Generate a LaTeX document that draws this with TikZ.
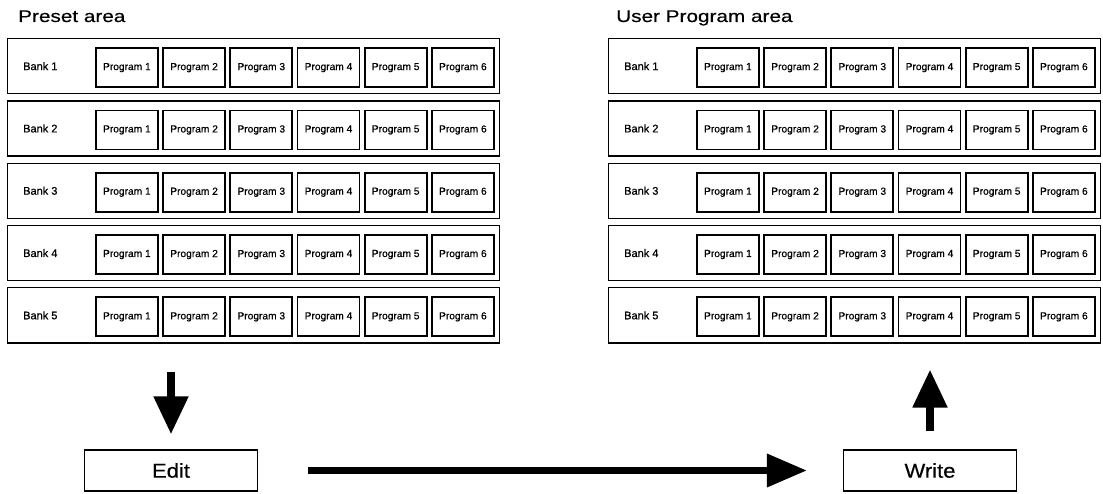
\documentclass[tikz,border=0pt]{standalone}
\usepackage{fontspec}
\setmainfont{Liberation Sans}
\newfontfamily\titlefont[FakeStretch=1.22,FakeBold=0.3]{Liberation Sans}
\newfontfamily\boxfont[FakeStretch=1.1,FakeBold=0.3]{Liberation Sans}
\newfontfamily\smallfont[FakeBold=0.6]{Liberation Sans}
\usetikzlibrary{positioning,arrows.meta}
\begin{document}
\begin{tikzpicture}[x=1pt,y=-1pt,
    bank/.style={draw,line width=1.3pt,minimum width=492pt,minimum height=55pt,inner sep=0pt,anchor=north west},
    prog/.style={draw,line width=1.8pt,minimum width=62pt,minimum height=39pt,inner sep=0pt,anchor=west,
      font=\smallfont\fontsize{10.2}{11}\selectfont},
    banklabel/.style={anchor=west,inner sep=0pt,font=\smallfont\fontsize{11}{12}\selectfont},
    areatitle/.style={anchor=base west,inner sep=0pt,font=\titlefont\fontsize{17}{18}\selectfont},
    opbox/.style={draw,line width=1.3pt,minimum width=173pt,minimum height=41pt,inner sep=0pt,
      font=\boxfont\fontsize{20}{22}\selectfont},
    bigarrow/.style={line width=8pt,-{Triangle[length=38pt,width=33pt]}}]
  \useasboundingbox (0,0) rectangle (1103,494);
  \node[areatitle] (pretitle) at (18,22) {Preset area};
  \node[areatitle] (usrtitle) at (616,22) {User Program area};
  \foreach \a/\xo in {pre/7,usr/608} {
    \foreach \b in {1,...,5} {
      \node[bank] (\a-bank\b) at (\xo,{38+62.3*(\b-1)}) {};
      \node[banklabel] (\a-lbl\b) at ([xshift=16pt]\a-bank\b.west) {Bank \b};
      \foreach \p in {1,...,6}
        \node[prog] (\a-b\b-p\p) at ([xshift={88+67.2*(\p-1)},yshift=-1.5pt]\a-bank\b.west) {Program \p};
    }
  }
  \node[opbox] (edit) at (171,470.5) {Edit};
  \node[opbox] (write) at (930,470.5) {Write};
  \draw[bigarrow,shorten <=28pt,shorten >=15pt] (pre-bank5.south -| edit.north) -- (edit.north);
  \draw[bigarrow,shorten <=18pt,shorten >=26pt] (write.north) -- (usr-bank5.south -| write.north);
  \draw[bigarrow,line width=7pt,-{Triangle[length=40pt,width=32pt]},shorten <=50pt,shorten >=36pt] (edit) -- (write);
\end{tikzpicture}
\end{document}
